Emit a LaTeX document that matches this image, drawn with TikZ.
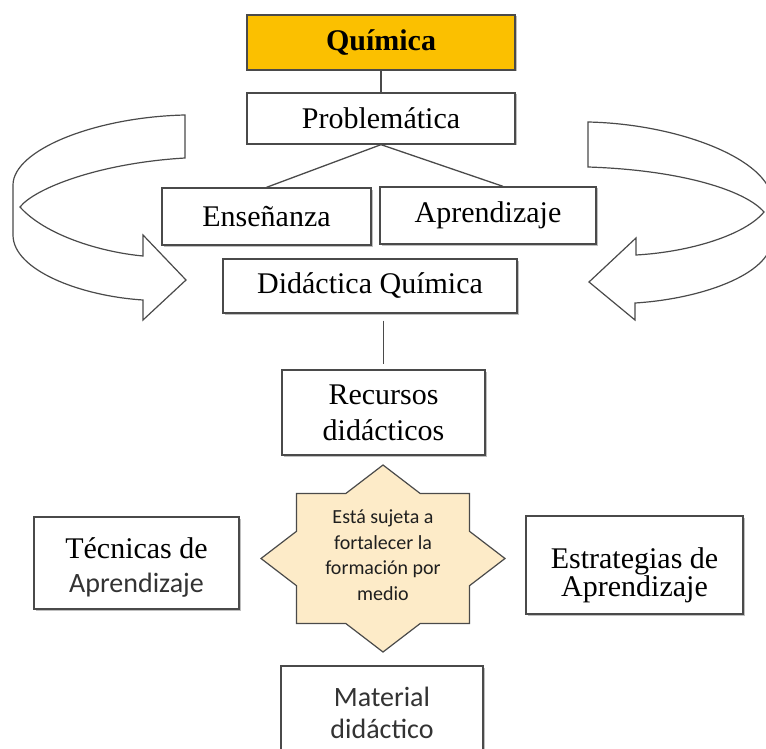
\documentclass[tikz,border=0pt]{standalone}
\usepackage{fontspec}
\setmainfont{Liberation Serif}
\newfontfamily\calibri{Carlito}
\usetikzlibrary{calc,shadows}
\definecolor{QuimGold}{HTML}{FBC000}
\definecolor{StarCream}{HTML}{FDEBC8}
\definecolor{LineGray}{HTML}{4A4A4A}

\begin{document}
\begin{tikzpicture}[x=1pt, y=-1pt,
   box/.style={draw=LineGray, line width=1.3pt, fill=white, inner sep=0pt, align=center,
               font=\fontsize{30}{34}\selectfont,
               drop shadow={shadow xshift=1.5pt, shadow yshift=-1.5pt, opacity=0.25, fill=black}},
   link/.style={draw=LineGray, line width=1.3pt},
   turn/.style={draw=LineGray, line width=1.2pt, fill=white},
   sans/.style={font=\calibri\fontsize{28}{32}\selectfont, text=black!80}]
  \clip (0,0) rectangle (766,749);
  % curved arrows on both sides
  \draw[turn] (185,115) .. controls (95,117) and (13,150) .. (13,185) -- (13,235)
    .. controls (13,270) and (80,296) .. (143,300) -- (143,320) -- (186,280) -- (143,235) -- (143,256)
    .. controls (100,252) and (45,235) .. (20,207) .. controls (35,188) and (100,163) .. (185,158) -- cycle;
  \draw[turn] (588,122) .. controls (680,124) and (770,160) .. (772,200) -- (772,240)
    .. controls (770,275) and (700,299) .. (635,303) -- (635,320) -- (589,282) -- (636,238) -- (636,255)
    .. controls (690,252) and (745,235) .. (764,212) .. controls (745,190) and (680,170) .. (588,167) -- cycle;

  \node[box, fill=QuimGold, minimum width=268pt, minimum height=55pt,
        font=\bfseries\fontsize{30}{34}\selectfont] (quimica) at (381,42.5) {Química};
  \node[box, minimum width=268pt, minimum height=51pt] (problem) at (381,118.5) {Problemática};
  \node[box, minimum width=209pt, minimum height=57pt] (ensenanza) at (266.5,216.5) {Enseñanza};
  \node[box, minimum width=216pt, minimum height=57pt] (aprendizaje) at (488,215.5) {Aprendizaje};
  \node[box, minimum width=294pt, minimum height=54pt] (didactica) at (370,286) {Didáctica Química};
  \node[box, minimum width=203pt, minimum height=85pt] (recursos) at (383.5,412.5) {Recursos\\[2pt]didácticos};
  \node[box, minimum width=205pt, minimum height=92pt] (tecnicas) at (136.5,563)
    {\rule{0pt}{30pt}Técnicas de\\{\calibri\fontsize{28}{32}\selectfont\color{black!80}Aprendizaje}};
  \node[box, minimum width=217pt, minimum height=98pt] (estrategias) at (634.5,565)
    {\rule{0pt}{41pt}Estrategias de\\[-6pt]Aprendizaje};
  \node[box, sans, minimum width=202pt, minimum height=94pt] (material) at (382,713) {Material\\didáctico};

  \draw[link] (quimica) -- (problem);
  \draw[link] (problem.south) -- (ensenanza.north);
  \draw[link] (problem.south) -- ([xshift=15pt]aprendizaje.north);
  \draw[link, shorten <=7pt, shorten >=5pt] (didactica.south -| recursos.north) -- (recursos.north);

  \coordinate (star) at (383,558.5);
  \draw[draw=LineGray, line width=1.2pt, fill=StarCream, shift={(star)}]
    (0,-93.5) -- (37.2,-65) -- (86.5,-65) -- (86.5,-27.2) -- (122,0) -- (86.5,27.2) -- (86.5,65)
    -- (37.2,65) -- (0,93.5) -- (-37.2,65) -- (-86.5,65) -- (-86.5,27.2) -- (-122,0)
    -- (-86.5,-27.2) -- (-86.5,-65) -- (-37.2,-65) -- cycle;
  \node[align=center, font=\calibri\fontsize{20}{25.5}\selectfont, text=black!88] (startext) at (383,555)
    {Está sujeta a\\fortalecer la\\formación por\\medio};
\end{tikzpicture}
\end{document}
